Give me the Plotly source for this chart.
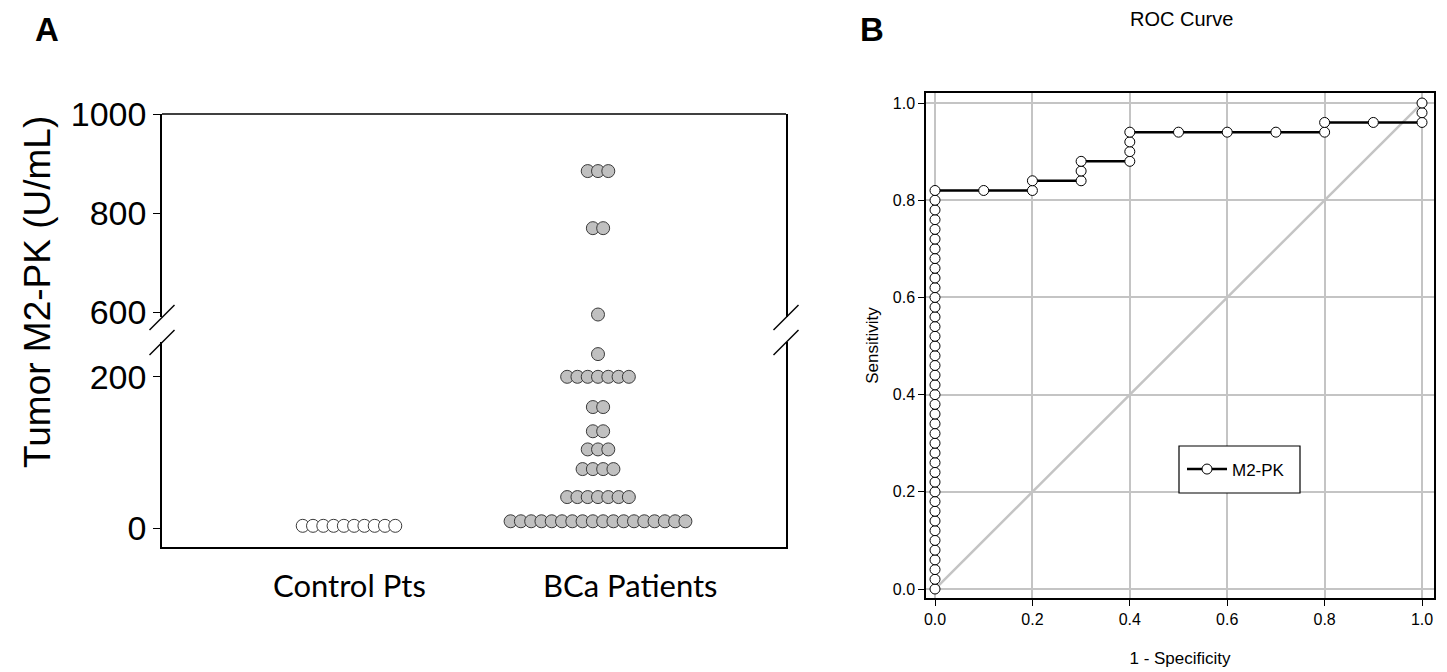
import plotly.graph_objects as go

# ---------------- data ----------------
CATEGORIES = ["Control Pts", "BCa Patients"]
CONTROL_LEVELS = [3]
CONTROL_COUNTS = [10]
BCA_LEVELS = [9, 41, 78, 104, 128, 160, 200, 230, 596, 770, 885]
BCA_COUNTS = [18, 7, 4, 3, 2, 2, 7, 1, 1, 2, 3]
Y_TICKS_LOW = [0, 200]
Y_TICKS_HIGH = [600, 800, 1000]

ROC_FPR = [0.0, 0.0, 0.0, 0.0, 0.0, 0.0, 0.0, 0.0, 0.0, 0.0,
           0.0, 0.0, 0.0, 0.0, 0.0, 0.0, 0.0, 0.0, 0.0, 0.0,
           0.0, 0.0, 0.0, 0.0, 0.0, 0.0, 0.0, 0.0, 0.0, 0.0,
           0.0, 0.0, 0.0, 0.0, 0.0, 0.0, 0.0, 0.0, 0.0, 0.0,
           0.0, 0.0,
           0.1, 0.2, 0.2, 0.3, 0.3, 0.3, 0.4, 0.4, 0.4, 0.4,
           0.5, 0.6, 0.7, 0.8, 0.8, 0.9, 1.0, 1.0, 1.0]
ROC_TPR = [0.00, 0.02, 0.04, 0.06, 0.08, 0.10, 0.12, 0.14, 0.16, 0.18,
           0.20, 0.22, 0.24, 0.26, 0.28, 0.30, 0.32, 0.34, 0.36, 0.38,
           0.40, 0.42, 0.44, 0.46, 0.48, 0.50, 0.52, 0.54, 0.56, 0.58,
           0.60, 0.62, 0.64, 0.66, 0.68, 0.70, 0.72, 0.74, 0.76, 0.78,
           0.80, 0.82,
           0.82, 0.82, 0.84, 0.84, 0.86, 0.88, 0.88, 0.90, 0.92, 0.94,
           0.94, 0.94, 0.94, 0.94, 0.96, 0.96, 0.96, 0.98, 1.00]
DIAG_X = [0.0, 1.0]
DIAG_Y = [0.0, 1.0]
ROC_TICKS = [0.0, 0.2, 0.4, 0.6, 0.8, 1.0]
SERIES_NAME = "M2-PK"

# ---------------- layout helpers ----------------
# the page body adds an 8px offset, so the figure is drawn 8px smaller
OFF = 8
W, H = 1447 - OFF, 672 - OFF


def px(x):
    return (x - OFF) / W


def py(y):
    return 1 - (y - OFF) / H


BREAK_LOW = 246   # top of lower segment (value)
PITCH = 0.0413    # horizontal spacing of stacked dots (x units)


def swarm(center, levels, counts):
    xs, ys = [], []
    for v, n in zip(levels, counts):
        for i in range(n):
            xs.append(center + (i - (n - 1) / 2) * PITCH)
            ys.append(v)
    return xs, ys


cx, cy = swarm(1, CONTROL_LEVELS, CONTROL_COUNTS)
bx, by = swarm(2, BCA_LEVELS, BCA_COUNTS)
bx_lo = [x for x, y in zip(bx, by) if y <= BREAK_LOW]
by_lo = [y for y in by if y <= BREAK_LOW]
bx_hi = [x for x, y in zip(bx, by) if y > BREAK_LOW]
by_hi = [y for y in by if y > BREAK_LOW]

FONT = "Liberation Sans, Arial, sans-serif"
CAT_FONT = "Lato, Carlito, sans-serif"
GREY_FILL = "#c0c0c0"
EDGE = "#3a3a3a"

fig = go.Figure()

fig.add_trace(go.Scatter(x=cx, y=cy, mode="markers", xaxis="x", yaxis="y",
                         marker=dict(size=13, color="white", line=dict(color=EDGE, width=1)),
                         showlegend=False, cliponaxis=False))
fig.add_trace(go.Scatter(x=bx_lo, y=by_lo, mode="markers", xaxis="x", yaxis="y",
                         marker=dict(size=13, color=GREY_FILL, line=dict(color=EDGE, width=1)),
                         showlegend=False, cliponaxis=False))
fig.add_trace(go.Scatter(x=bx_hi, y=by_hi, mode="markers", xaxis="x", yaxis="y3",
                         marker=dict(size=13, color=GREY_FILL, line=dict(color=EDGE, width=1)),
                         showlegend=False, cliponaxis=False))

# ROC panel
fig.add_trace(go.Scatter(x=DIAG_X, y=DIAG_Y, mode="lines", xaxis="x2", yaxis="y2",
                         line=dict(color="#c4c4c4", width=2.5), showlegend=False,
                         hoverinfo="skip"))
fig.add_trace(go.Scatter(x=ROC_FPR, y=ROC_TPR, mode="lines+markers", xaxis="x2", yaxis="y2",
                         name=SERIES_NAME,
                         line=dict(color="black", width=2.5),
                         marker=dict(size=10, color="white", line=dict(color="black", width=1)),
                         cliponaxis=False))

# Panel A axes
xA_range = [0.249, 2.755]
yA_low_dom = [py(547), py(342)]
yA_high_dom = [py(317), py(114)]

fig.update_layout(
    width=W, height=H, autosize=False,
    margin=dict(l=0, r=0, t=0, b=0),
    paper_bgcolor="white", plot_bgcolor="rgba(0,0,0,0)",
    font=dict(family=FONT, color="black"),
    xaxis=dict(domain=[px(162), px(786)], range=xA_range, anchor="y",
               showline=True, linecolor="black", linewidth=1.5,
               showticklabels=False, ticks="", showgrid=False, zeroline=False,
               automargin=False),
    yaxis=dict(domain=yA_low_dom, range=[-25, BREAK_LOW], anchor="x",
               showline=True, mirror=True, linecolor="black", linewidth=1.5,
               tickvals=Y_TICKS_LOW, ticks="outside", ticklen=7, tickcolor="black",
               tickfont=dict(size=34, family=FONT), showgrid=False, zeroline=False,
               automargin=False),
    yaxis3=dict(domain=yA_high_dom, range=[591, 1000], anchor="x",
                showline=True, mirror=True, linecolor="black", linewidth=1.5,
                tickvals=Y_TICKS_HIGH, ticks="outside", ticklen=7, tickcolor="black",
                tickfont=dict(size=34, family=FONT), showgrid=False, zeroline=False,
                automargin=False),
    xaxis2=dict(domain=[px(926), px(1434)], range=[-0.0185, 1.0246], anchor="y2",
                showline=True, mirror=True, linecolor="black", linewidth=1.5,
                tickvals=ROC_TICKS, tickformat=".1f", ticks="outside", ticklen=6,
                tickcolor="black", tickfont=dict(size=16, family=FONT),
                showgrid=True, gridcolor="#c4c4c4", gridwidth=1.5, zeroline=False,
                title=dict(text="1 - Specificity", font=dict(size=17, family=FONT), standoff=25),
                automargin=False),
    yaxis2=dict(domain=[py(598), py(93)], range=[-0.0185, 1.0206], anchor="x2",
                showline=True, mirror=True, linecolor="black", linewidth=1.5,
                tickvals=ROC_TICKS, tickformat=".1f", ticks="outside", ticklen=6,
                tickcolor="black", tickfont=dict(size=16, family=FONT),
                showgrid=True, gridcolor="#c4c4c4", gridwidth=1.5, zeroline=False,
                title=dict(text="Sensitivity", font=dict(size=17, family=FONT), standoff=10),
                automargin=False),
    legend=dict(x=px(1182), y=py(469.5), xanchor="left", yanchor="middle",
                bgcolor="rgba(0,0,0,0)", borderwidth=0, itemwidth=40,
                font=dict(size=17, family=FONT)),
)

annotations = [
    dict(text="Tumor M2-PK (U/mL)", xref="paper", yref="paper", x=px(37), y=py(292),
         textangle=-90, showarrow=False, font=dict(size=37, family=FONT),
         xanchor="center", yanchor="middle"),
    dict(text=CATEGORIES[0], xref="x", yref="paper", x=1.0, y=py(585), showarrow=False,
         font=dict(size=31, family=CAT_FONT), xanchor="center", yanchor="middle"),
    dict(text=CATEGORIES[1], xref="x", yref="paper", x=2.13, y=py(585), showarrow=False,
         font=dict(size=31, family=CAT_FONT), xanchor="center", yanchor="middle"),
    dict(text="<b>A</b>", xref="paper", yref="paper", x=px(47), y=py(30), showarrow=False,
         font=dict(size=33, family=FONT), xanchor="center", yanchor="middle"),
    dict(text="<b>B</b>", xref="paper", yref="paper", x=px(872), y=py(30), showarrow=False,
         font=dict(size=33, family=FONT), xanchor="center", yanchor="middle"),
    dict(text="ROC Curve", xref="paper", yref="paper", x=px(1181), y=py(19), showarrow=False,
         font=dict(size=20, family=FONT), xanchor="center", yanchor="middle"),
]
fig.update_layout(annotations=annotations)

shapes = []
# top edge of panel A frame
shapes.append(dict(type="line", xref="paper", yref="paper",
                   x0=px(162), y0=py(114), x1=px(786), y1=py(114),
                   line=dict(color="black", width=1.5)))
# axis-break slashes on both sides of panel A
for xe in (162, 786):
    for ye in (317.5, 342.5):
        shapes.append(dict(type="line", xref="paper", yref="paper",
                           x0=px(xe - 12.5), y0=py(ye + 12.5),
                           x1=px(xe + 12.5), y1=py(ye - 12.5),
                           line=dict(color="black", width=1.5)))
# legend frame (covers the grid behind it)
shapes.append(dict(type="rect", xref="paper", yref="paper",
                   x0=px(1179), y0=py(493), x1=px(1300), y1=py(446),
                   fillcolor="white", line=dict(color="black", width=1.2), layer="above"))
fig.update_layout(shapes=shapes)

fig.write_html("out.html")
